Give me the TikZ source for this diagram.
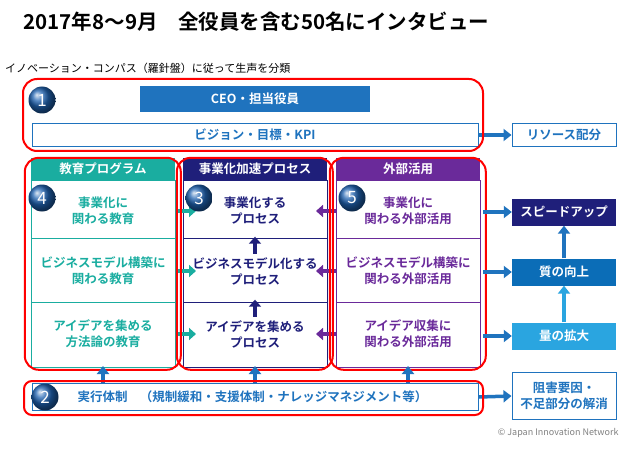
\documentclass[tikz,border=0pt]{standalone}
\usepackage{fontspec}
\newfontfamily\jp{Noto Sans CJK JP}
\newfontfamily\jpb{Noto Sans CJK JP Bold}
\usetikzlibrary{arrows.meta,shadings}
\definecolor{bl}{HTML}{1F73BE}
\definecolor{teal}{HTML}{1AADA0}
\definecolor{navy}{HTML}{1F1F7A}
\definecolor{purp}{HTML}{6A2A9A}
\definecolor{qual}{HTML}{0B6DB7}
\definecolor{qty}{HTML}{2AA5E0}
\begin{document}
\begin{tikzpicture}[x=1pt,y=-1pt,
  txt/.style={font=\jpb\fontsize{12.5}{16}\selectfont,align=center},
  num/.style={circle,minimum size=27pt,inner sep=0pt,ball color=bl!80!navy,text=white,font=\jp\fontsize{17}{17}\selectfont},
  redbox/.style={draw=red,line width=2pt,rounded corners=14pt},
  bigarr/.style={draw=bl,line width=3.5pt,-{Triangle[length=8pt,width=12pt]}},
  smarr/.style={line width=4pt,-{Triangle[length=7pt,width=12pt]}}]
\useasboundingbox (0,0) rectangle (629,468);
\node[font=\jpb\fontsize{20.5}{22}\selectfont,anchor=west] (title) at (20,22) {2017年8～9月\quad 全役員を含む50名にインタビュー};
\node[font=\jp\fontsize{11}{12}\selectfont,anchor=west,inner sep=0] (sub) at (5,68) {イノベーション・コンパス（羅針盤）に従って生声を分類};
% top
\node[fill=bl,minimum width=230pt,minimum height=26pt,text=white,txt] (ceo) at (255,99) {CEO・担当役員};
\node[draw=bl,line width=1pt,minimum width=446pt,minimum height=23pt,text=bl,txt] (vis) at (255,135) {ビジョン・目標・KPI};
\node[draw=bl,line width=1pt,minimum width=104pt,minimum height=23pt,text=bl,txt] (res) at (564,135) {リソース配分};
\draw[bigarr] (vis.east) -- (res.west);
\draw[redbox] (23,79) rectangle (483,151);
\node[num] (n1) at (42,100) {1};
% columns
\foreach \c/\x/\col/\h in {a/103/teal/教育プログラム,b/255/navy/事業化加速プロセス,c/408/purp/外部活用}{
  \node[fill=\col,minimum width=144pt,minimum height=22pt,text=white,txt] (h\c) at (\x,169) {\h};
  \draw[\col,line width=0.8pt] (\x-72,180) rectangle (\x+72,367);
  \draw[\col,line width=0.6pt] (\x-72,238) -- (\x+72,238) (\x-72,302) -- (\x+72,302);
}
\node[txt,text=teal] (a1) at (103,211) {事業化に\\関わる教育};
\node[txt,text=teal] (a2) at (103,271) {ビジネスモデル構築に\\関わる教育};
\node[txt,text=teal] (a3) at (103,334) {アイデアを集める\\方法論の教育};
\node[txt,text=navy] (b1) at (255,211) {事業化する\\プロセス};
\node[txt,text=navy] (b2) at (255,271) {ビジネスモデル化する\\プロセス};
\node[txt,text=navy] (b3) at (255,334) {アイデアを集める\\プロセス};
\node[txt,text=purp] (c1) at (408,211) {事業化に\\関わる外部活用};
\node[txt,text=purp] (c2) at (408,271) {ビジネスモデル構築に\\関わる外部活用};
\node[txt,text=purp] (c3) at (408,334) {アイデア収集に\\関わる外部活用};
\foreach \r/\y in {1/211,2/271,3/334}{
  \coordinate (ta\r) at (176,\y); \coordinate (tb\r) at (196,\y);
  \coordinate (pa\r) at (336,\y); \coordinate (pb\r) at (316,\y);
  \draw[smarr,teal] (ta\r) -- (tb\r);
  \draw[smarr,purp] (pa\r) -- (pb\r);
}
\draw[smarr,navy] (b3.north) ++(0,0) coordinate (u1) -- ++(0,-17);
\draw[smarr,navy] (b2.north) ++(0,0) coordinate (u2) -- ++(0,-17);
\foreach \c in {a,b,c}{\draw[redbox] (h\c.north west) ++(-6,0) rectangle ++(156,212);}
\node[num] (n4) at (42,198) {4};
\node[num] (n3) at (199,198) {3};
\node[num] (n5) at (352,198) {5};
% right boxes
\node[fill=navy,minimum width=104pt,minimum height=27pt,text=white,txt] (sp) at (564,212) {スピードアップ};
\node[fill=qual,minimum width=104pt,minimum height=27pt,text=white,txt] (ql) at (564,272) {質の向上};
\node[fill=qty,minimum width=104pt,minimum height=27pt,text=white,txt] (qt) at (564,336) {量の拡大};
\node[draw=bl,line width=1pt,minimum width=104pt,minimum height=47pt,text=bl,txt] (ob) at (564,396) {阻害要因・\\不足部分の解消};
\draw[bigarr,draw=qty] (qt.north) -- (ql.south);
\draw[bigarr] (ql.north) -- (sp.south);
\coordinate (r1) at (483,212); \coordinate (r2) at (483,272); \coordinate (r3) at (483,336);
\draw[bigarr] (r1) -- (sp.west);
\draw[bigarr] (r2) -- (ql.west);
\draw[bigarr] (r3) -- (qt.west);
% bottom
\node[draw=bl,line width=1pt,minimum width=446pt,text width=436pt,minimum height=27pt,text=bl,txt,align=left,anchor=west] (ex) at (32,397) {\hspace{40pt}実行体制\quad（規制緩和・支援体制・ナレッジマネジメント等）};
\draw[bigarr] (ex.east) -- (ob.west);
\foreach \x in {103,255,408}{\draw[bigarr,line width=4pt] (\x,384) -- (\x,366);}
\draw[redbox,rounded corners=8pt] (24,381) rectangle (483,415);
\node[num] (n2) at (45,397) {2};
\node[font=\jp\fontsize{9}{10}\selectfont,text=gray,anchor=east] (copy) at (622,433) {© Japan Innovation Network};
\end{tikzpicture}
\end{document}
